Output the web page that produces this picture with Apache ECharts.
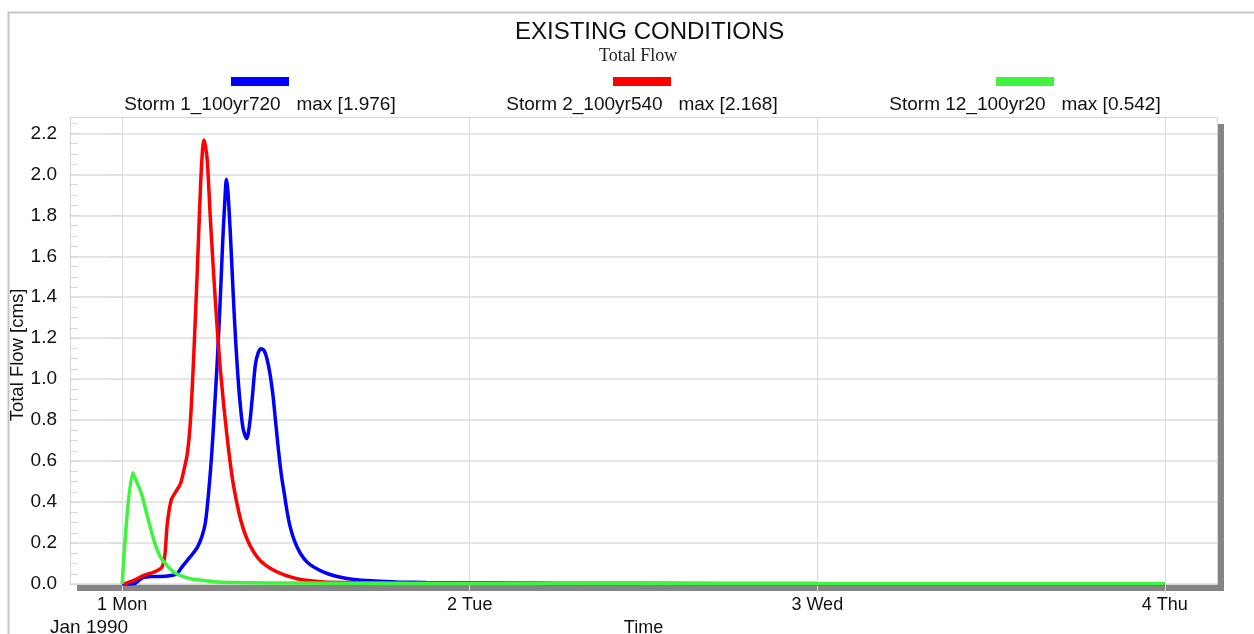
<!DOCTYPE html>
<html>
<head>
<meta charset="utf-8">
<script src="https://cdn.jsdelivr.net/npm/echarts@6/dist/echarts.min.js"></script>
<style>
html,body{margin:0;padding:0;background:#fff;}
#chart{width:1254px;height:634px;}
</style>
</head>
<body>
<div id="chart"></div>
<script>
// ---- data (hours after 1 Jan 1990 00:00, flow in cms) ----
const dayTicks = [0, 24, 48, 72];
const dayLabels = ['1 Mon', '2 Tue', '3 Wed', '4 Thu'];
const yTicks = [0, 0.2, 0.4, 0.6, 0.8, 1.0, 1.2, 1.4, 1.6, 1.8, 2.0, 2.2];

const storm1Hours = [0, 0.8, 1.2, 1.5, 2.0, 2.5, 3.0, 3.5, 3.8, 4.1, 4.5, 4.9, 5.2, 5.5, 5.75, 6.0, 6.2, 6.4, 6.6, 6.8, 6.95, 7.1, 7.2, 7.3, 7.45, 7.6, 7.75, 7.95, 8.15, 8.35, 8.6, 8.8, 9.0, 9.2, 9.4, 9.6, 9.8, 10.0, 10.2, 10.4, 10.6, 10.8, 11.0, 11.2, 11.4, 11.6, 11.9, 12.3, 12.8, 13.5, 14.2, 15.0, 16.0, 17.4, 19.0, 21, 24, 27, 30, 36, 48, 72];
const storm1Flow  = [0, 0, 0.02, 0.033, 0.036, 0.037, 0.038, 0.043, 0.05, 0.08, 0.115, 0.15, 0.18, 0.23, 0.30, 0.47, 0.65, 0.88, 1.13, 1.43, 1.68, 1.88, 1.976, 1.92, 1.74, 1.52, 1.30, 1.06, 0.88, 0.76, 0.71, 0.78, 0.92, 1.07, 1.13, 1.148, 1.14, 1.10, 1.03, 0.93, 0.79, 0.65, 0.53, 0.44, 0.35, 0.28, 0.21, 0.15, 0.105, 0.072, 0.05, 0.034, 0.022, 0.015, 0.01, 0.007, 0.005, 0.004, 0.003, 0.002, 0.001, 0.001];

const storm2Hours = [0.1, 0.8, 1.5, 2.2, 2.66, 2.8, 2.95, 3.12, 3.39, 3.7, 4.03, 4.26, 4.5, 4.72, 4.95, 5.19, 5.41, 5.55, 5.64, 5.75, 5.88, 6.1, 6.45, 6.79, 7.25, 7.71, 8.4, 9.32, 10.47, 12.08, 13.9, 16, 20, 24, 30, 48, 72];
const storm2Flow  = [0, 0.018, 0.042, 0.058, 0.075, 0.09, 0.14, 0.295, 0.41, 0.45, 0.49, 0.555, 0.636, 0.80, 1.124, 1.53, 1.937, 2.12, 2.168, 2.14, 2.067, 1.774, 1.368, 1.042, 0.717, 0.473, 0.262, 0.132, 0.067, 0.026, 0.01, 0.007, 0.005, 0.004, 0.003, 0.002, 0.001];

const storm12Hours = [0, 0.74, 1.0, 1.34, 1.6, 1.97, 2.3, 2.66, 3.1, 3.57, 4.0, 4.72, 5.9, 6.6, 8, 10, 14, 20, 30, 48, 72];
const storm12Flow  = [0, 0.543, 0.50, 0.44, 0.37, 0.27, 0.19, 0.13, 0.09, 0.058, 0.042, 0.026, 0.015, 0.01, 0.007, 0.005, 0.004, 0.003, 0.002, 0.001, 0.001];

const seriesNames = ['Storm 1_100yr720', 'Storm 2_100yr540', 'Storm 12_100yr20'];
const seriesMax = ['1.976', '2.168', '0.542'];
const seriesColors = ['#0000ff', '#ff0000', '#3ef53e'];

function pairs(h, v) { return h.map((x, i) => [x, v[i]]); }

const FONT = 'Arial, "Liberation Sans", sans-serif';
const chart = echarts.init(document.getElementById('chart'));

const G = { left: 70, right: 37, top: 117, bottom: 50 };
const W = 1254, H = 634;
const gw = W - G.left - G.right, gh = H - G.top - G.bottom;

const legendCenters = [260, 642, 1025];
const graphics = [
  { type: 'rect', left: 6, top: 10, shape: { width: 1300, height: 700 }, style: { fill: null, stroke: '#c6c6c6', lineWidth: 2 }, silent: true, z: -10 },
  { type: 'rect', shape: { x: G.left + 0.5, y: G.top + 0.5, width: gw, height: gh }, style: { fill: null, stroke: '#d6d6d6', lineWidth: 1 }, silent: true, z: 1 },
  { type: 'text', left: 50, top: 618, style: { text: 'Jan 1990', font: '19px ' + FONT, fill: '#111' } },
  { type: 'text', x: 18, y: 355, rotation: Math.PI / 2, style: { text: 'Total Flow [cms]', font: '18.5px ' + FONT, fill: '#111', align: 'center', verticalAlign: 'middle' } }
];
legendCenters.forEach((cx, i) => {
  graphics.push({ type: 'rect', shape: { x: cx - 29, y: 77, width: 58, height: 9 }, style: { fill: seriesColors[i] } });
  graphics.push({ type: 'text', x: cx, y: 105, style: { text: seriesNames[i] + '   max [' + seriesMax[i] + ']', font: '19px ' + FONT, fill: '#111', align: 'center', verticalAlign: 'middle' } });
});

const series = [
  { hours: storm1Hours, flow: storm1Flow },
  { hours: storm2Hours, flow: storm2Flow },
  { hours: storm12Hours, flow: storm12Flow }
].map((s, i) => ({
  name: seriesNames[i],
  type: 'line',
  data: pairs(s.hours, s.flow),
  showSymbol: false,
  smooth: 0.3,
  lineStyle: { color: seriesColors[i], width: 3.5 },
  itemStyle: { color: seriesColors[i] },
  z: 3 + i
}));

chart.setOption({
  animation: false,
  backgroundColor: '#fff',
  title: [
    { text: 'EXISTING CONDITIONS', left: 510, top: 15, textStyle: { fontFamily: FONT, fontSize: 24, fontWeight: 'normal', color: '#111' } },
    { text: 'Total Flow', left: 594, top: 42, textStyle: { fontFamily: '"Liberation Serif", "Times New Roman", serif', fontSize: 18, fontWeight: 'normal', color: '#222' } }
  ],
  grid: {
    left: G.left, right: G.right, top: G.top, bottom: G.bottom,
    outerBoundsMode: 'none', containLabel: false,
    show: true, backgroundColor: '#fff', borderWidth: 0,
    shadowColor: '#858585', shadowBlur: 0, shadowOffsetX: 7, shadowOffsetY: 7
  },
  xAxis: {
    type: 'value', min: -3.6, max: 75.6,
    name: 'Time', nameLocation: 'middle', nameGap: 34,
    nameTextStyle: { fontFamily: FONT, fontSize: 18, color: '#111' },
    axisLine: { show: false },
    axisTick: { show: true, customValues: dayTicks, length: 9, lineStyle: { color: '#dcdcdc' } },
    axisLabel: { customValues: dayTicks, margin: 12, fontFamily: FONT, fontSize: 18, color: '#111',
      formatter: v => dayLabels[dayTicks.indexOf(v)] },
    splitLine: { show: true, lineStyle: { color: '#dcdcdc', width: 1 } }
  },
  yAxis: [
    {
      type: 'value', min: 0, max: 2.28,
      axisLine: { show: false },
      axisTick: { show: true, customValues: yTicks, length: 12, lineStyle: { color: '#dcdcdc' } },
      axisLabel: { customValues: yTicks, margin: 13, fontFamily: FONT, fontSize: 19, color: '#111',
        formatter: v => v.toFixed(1) },
      splitLine: { show: true, lineStyle: { color: '#dcdcdc', width: 1.5 } }
    },
    {
      type: 'value', min: 0, max: 2.28, interval: 0.05, position: 'left',
      axisLine: { show: false },
      axisTick: { show: true, inside: true, length: 8, lineStyle: { color: '#d8d8d8' } },
      axisLabel: { show: false },
      splitLine: { show: false }
    }
  ],
  graphic: graphics,
  series: series
});
</script>
</body>
</html>
